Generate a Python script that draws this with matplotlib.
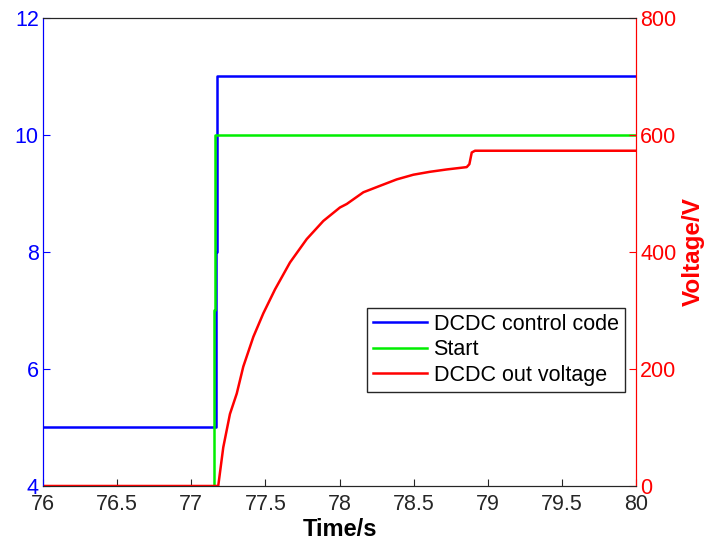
import numpy as np
import matplotlib.pyplot as plt

# DCDC control code (left axis)
code_t = [76.0, 77.168, 77.168, 77.175, 77.175, 80.0]
code_v = [5, 5, 8, 8, 11, 11]

# Start signal (left axis)
start_t = [76.0, 77.152, 77.152, 77.160, 77.160, 80.0]
start_v = [4, 4, 7, 7, 10, 10]

# DCDC out voltage (right axis)
volt_t = [76.0, 77.182, 77.216, 77.261, 77.307, 77.351, 77.419, 77.486, 77.565,
          77.666, 77.779, 77.891, 78.003, 78.049, 78.161, 78.273, 78.386, 78.498,
          78.610, 78.723, 78.858, 78.876, 78.892, 78.914, 80.0]
volt_v = [0, 0, 66, 123, 158, 204, 255, 295, 336, 382, 422, 453, 476, 482, 502,
          513, 524, 532, 537, 541, 545, 550, 570, 573, 573]

plt.rcParams['font.family'] = ['Liberation Sans', 'DejaVu Sans']

fig = plt.figure(figsize=(7.07, 5.43), dpi=100)
ax = fig.add_axes([0.0608, 0.105, 0.8388, 0.862])
ax2 = ax.twinx()

l1, = ax.plot(code_t, code_v, color='#0000ff', lw=1.8, label='DCDC control code')
l2, = ax.plot(start_t, start_v, color='#00ee00', lw=1.8, label='Start')
l3, = ax2.plot(volt_t, volt_v, color='#ff0000', lw=1.8, label='DCDC out voltage')

ax.set_xlim(76, 80)
ax.set_ylim(4, 12)
ax2.set_ylim(0, 800)
ax.set_xticks(np.arange(76, 80.01, 0.5))
ax.set_xticklabels(['76', '76.5', '77', '77.5', '78', '78.5', '79', '79.5', '80'])
ax.set_yticks([4, 6, 8, 10, 12])
ax2.set_yticks([0, 200, 400, 600, 800])

ax.tick_params(axis='x', direction='in', length=5, labelsize=15.5, colors='#262626', pad=6)
ax.tick_params(axis='y', direction='in', length=5, labelsize=15.5, colors='#0000ff', pad=3)
ax2.tick_params(axis='y', direction='in', length=5, labelsize=15.5, colors='#ff0000', pad=3)

for a in (ax, ax2):
    a.spines['top'].set_color('#262626')
    a.spines['bottom'].set_color('#262626')
    a.spines['left'].set_color('#0000ff')
    a.spines['right'].set_color('#ff0000')

ax.set_xlabel('Time/s', fontsize=17, fontweight='bold', labelpad=2)
ax2.set_ylabel('Voltage/V', fontsize=17.5, fontweight='bold', color='#ff0000', labelpad=4)

leg = ax2.legend(handles=[l1, l2, l3], loc='lower right', bbox_to_anchor=(0.884, 0.278),
                 bbox_transform=fig.transFigure, fontsize=15.5, fancybox=False,
                 edgecolor='#262626', framealpha=1, handlelength=2.5, handletextpad=0.3,
                 labelspacing=0.2, borderaxespad=0, borderpad=0.3)
leg.get_frame().set_linewidth(1.0)

fig.savefig('out.png', dpi=100)
